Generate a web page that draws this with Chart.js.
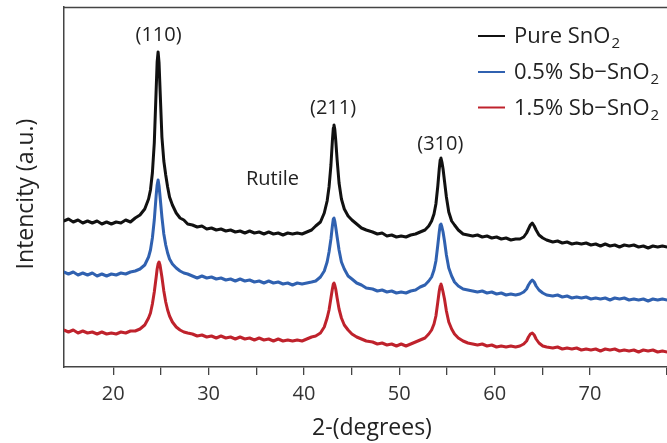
<!DOCTYPE html>
<html>
<head>
<meta charset="utf-8">
<script src="https://cdn.jsdelivr.net/npm/chart.js@4.4.0/dist/chart.umd.min.js"></script>
<style>
    html, body { margin: 0; padding: 0; background: #fff; }
    canvas { display: block; }
</style>
</head>
<body>
<canvas id="xrdChart" width="667" height="443"></canvas>
<script>
// 2-theta positions (degrees), shared by all three patterns
const angle = [
    14.8, 15.3, 15.8, 16.3, 16.8, 17.3, 17.8, 18.3, 18.8, 19.3, 19.8, 20.3, 20.8, 21.3, 21.8,
    22.3, 22.8, 23.3, 23.7, 23.9, 24.1, 24.3, 24.5, 24.6, 24.7, 24.8, 24.9, 25.1, 25.3, 25.5, 25.7, 25.9, 26.2, 26.6, 27.0, 27.4, 27.8,
    28.3, 28.8, 29.3, 29.8, 30.3, 30.8, 31.3, 31.8, 32.3, 32.8, 33.3, 33.8, 34.3, 34.8, 35.3, 35.8, 36.3, 36.8, 37.3, 37.8, 38.3, 38.8, 39.3, 39.8, 40.3, 40.8,
    41.23, 41.73, 42.13, 42.43, 42.63, 42.83, 42.98, 43.08, 43.15, 43.23, 43.33, 43.48, 43.68, 43.93, 44.23, 44.63, 45.03, 45.53, 46.03, 46.53,
    47.2, 47.7, 48.2, 48.7, 49.2, 49.7, 50.2, 50.7, 51.2, 51.7,
    52.19, 52.69, 53.09, 53.39, 53.64, 53.84, 54.04, 54.19, 54.29, 54.37, 54.47, 54.59, 54.74, 54.94, 55.19, 55.49, 55.79, 56.19, 56.69, 57.19,
    57.7, 58.2, 58.7, 59.2, 59.7, 60.2, 60.7, 61.2, 61.7, 62.2,
    62.65, 63.05, 63.35, 63.55, 63.75, 63.95, 64.15, 64.35, 64.65, 65.05, 65.45,
    66.1, 66.6, 67.1, 67.6, 68.1, 68.6, 69.1, 69.6, 70.1, 70.6, 71.1, 71.6, 72.1, 72.6, 73.1, 73.6, 74.1, 74.6, 75.1, 75.6, 76.1, 76.6, 77.1, 77.6, 78.1
];

const pureSnO2 = [
    146, 148, 145, 147, 144, 146, 144, 146, 143, 145, 143, 145, 144, 147, 145,
    149, 152, 158, 168, 177, 194, 224, 278, 305, 315, 304, 279, 230, 206, 192, 180, 170, 162, 154, 149, 147, 143,
    142, 140, 141, 138, 139, 137, 138, 136, 137, 135, 136, 134, 136, 134, 135, 133, 135, 133, 134, 132, 134, 133, 134, 133, 135, 137,
    141, 145, 154, 166, 180, 202, 226, 239, 242, 238, 227, 207, 184, 168, 158, 151, 147, 143, 139, 137,
    135, 133, 134, 131, 132, 130, 131, 130, 132, 133,
    135, 137, 141, 146, 153, 163, 181, 198, 207, 209, 205, 198, 186, 170, 155, 146, 142, 137, 133, 132,
    131, 132, 130, 131, 129, 130, 128, 129, 127, 128,
    128, 130, 134, 138, 142, 144, 141, 137, 132, 129, 127,
    125, 126, 124, 125, 123, 124, 123, 124, 122, 123, 121, 123, 121, 122, 120, 122, 121, 122, 120, 121, 119, 121, 120, 121, 120
];

const sb05 = [
    95, 93, 95, 92, 94, 92, 94, 91, 93, 91, 93, 92, 94, 93, 95,
    96, 98, 102, 110, 117, 129, 147, 172, 182, 187, 181, 171, 150, 133, 122, 114, 108, 103, 99, 96, 94, 93,
    91, 89, 91, 89, 90, 88, 89, 87, 88, 86, 88, 86, 87, 85, 86, 84, 86, 84, 85, 83, 84, 82, 84, 83, 84, 85,
    86, 90, 96, 105, 115, 128, 141, 148, 149, 146, 140, 130, 117, 105, 98, 91, 88, 84, 82, 79,
    78, 76, 77, 75, 76, 74, 75, 74, 76, 77,
    80, 82, 86, 90, 97, 106, 122, 135, 142, 143, 140, 135, 126, 112, 99, 91, 85, 81, 78, 77,
    76, 75, 76, 74, 75, 73, 74, 72, 73, 72,
    73, 75, 78, 82, 85, 87, 85, 81, 77, 74, 72,
    71, 72, 70, 71, 69, 70, 69, 70, 68, 69, 68, 69, 67, 69, 68, 69, 67, 68, 67, 68, 66, 68, 67, 68, 67
];

const sb15 = [
    37, 35, 37, 34, 36, 34, 35, 33, 35, 33, 34, 33, 35, 34, 36,
    36, 38, 42, 49, 54, 63, 75, 90, 98, 103, 105, 102, 90, 76, 65, 57, 51, 45, 40, 37, 35, 34,
    33, 31, 32, 30, 31, 29, 31, 29, 30, 28, 30, 28, 29, 27, 29, 27, 28, 26, 28, 26, 27, 26, 27, 26, 28, 30,
    31, 34, 40, 49, 57, 69, 78, 83, 84, 82, 78, 69, 58, 49, 42, 37, 33, 30, 28, 26,
    25, 23, 24, 22, 23, 21, 23, 21, 23, 25,
    27, 29, 33, 37, 43, 51, 65, 76, 81, 83, 80, 75, 68, 56, 45, 38, 33, 29, 26, 24,
    23, 22, 23, 21, 22, 20, 21, 20, 21, 20,
    21, 23, 26, 30, 33, 34, 32, 28, 24, 21, 20,
    19, 20, 18, 19, 18, 19, 17, 18, 17, 18, 16, 18, 17, 18, 16, 17, 16, 17, 15, 17, 16, 17, 15, 16, 15
];

const seriesNames = ['Pure SnO₂', '0.5% Sb−SnO₂', '1.5% Sb−SnO₂'];
const seriesColors = ['#111111', '#3061b0', '#bf222c'];

// reflection labels placed in data coordinates
const peakLabels = ['(110)', '(211)', '(310)', 'Rutile'];
const peakLabelX = [24.75, 43.05, 54.3, 36.7];
const peakLabelY = [332, 259, 223, 188];

const FONT = '"Open Sans", "Noto Sans", sans-serif';
const AXIS_COLOR = '#444';

function toPoints(values) {
    return values.map((v, i) => ({x: angle[i], y: v}));
}

const decorations = {
    id: 'decorations',
    afterDraw(chart) {
        const ctx = chart.ctx;
        const area = chart.chartArea;
        const xs = chart.scales.x;
        const ys = chart.scales.y;
        ctx.save();

        // top frame line
        ctx.strokeStyle = AXIS_COLOR;
        ctx.lineWidth = 1.3;
        ctx.beginPath();
        ctx.moveTo(area.left, area.top + 0.5);
        ctx.lineTo(area.right, area.top + 0.5);
        ctx.stroke();

        // peak labels
        ctx.fillStyle = '#222';
        ctx.textAlign = 'center';
        ctx.textBaseline = 'middle';
        ctx.font = `20px ${FONT}`;
        peakLabels.forEach((t, i) => {
            ctx.fillText(t, xs.getPixelForValue(peakLabelX[i]), ys.getPixelForValue(peakLabelY[i]));
        });

        // axis titles
        ctx.font = `23px ${FONT}`;
        ctx.fillText('2-(degrees)', 372, 428);
        ctx.save();
        ctx.translate(26, 194);
        ctx.rotate(-Math.PI / 2);
        ctx.fillText('Intencity (a.u.)', 0, 0);
        ctx.restore();

        // legend
        const rowY = [36, 72, 107.5];
        seriesNames.forEach((name, i) => {
            ctx.strokeStyle = seriesColors[i];
            ctx.lineWidth = 2;
            ctx.beginPath();
            ctx.moveTo(478, rowY[i]);
            ctx.lineTo(505, rowY[i]);
            ctx.stroke();

            const main = name.replace('₂', '');
            ctx.fillStyle = '#222';
            ctx.textAlign = 'left';
            ctx.font = `22px ${FONT}`;
            ctx.fillText(main, 514, rowY[i] + 1);
            const w = ctx.measureText(main).width;
            ctx.font = `15px ${FONT}`;
            ctx.fillText('2', 514 + w + 1, rowY[i] + 8);
        });

        ctx.restore();
    }
};

function main() {
    const ctx = document.getElementById('xrdChart').getContext('2d');
    Chart.defaults.font.family = FONT;

    new Chart(ctx, {
        type: 'line',
        data: {
            datasets: [pureSnO2, sb05, sb15].map((vals, i) => ({
                label: seriesNames[i],
                data: toPoints(vals),
                borderColor: seriesColors[i],
                borderWidth: 3,
                borderJoinStyle: 'round',
                pointRadius: 0,
                tension: 0,
                fill: false
            }))
        },
        options: {
            responsive: false,
            animation: false,
            devicePixelRatio: 1,
            layout: {padding: {top: 7, right: 0, left: 0, bottom: 0}},
            plugins: {
                legend: {display: false},
                tooltip: {enabled: false}
            },
            scales: {
                x: {
                    type: 'linear',
                    min: 14.83,
                    max: 78.08,
                    afterFit: s => {
                        s.height = 76;
                        s.paddingLeft = 0;
                        s.paddingRight = 0;
                    },
                    afterBuildTicks: s => { s.ticks = s.ticks.filter(t => t.value >= 20); },
                    ticks: {
                        stepSize: 5,
                        autoSkip: false,
                        maxRotation: 0,
                        padding: 7,
                        color: '#333',
                        font: {size: 20},
                        callback: v => (v % 10 === 0 ? v : '')
                    },
                    grid: {
                        display: true,
                        drawOnChartArea: false,
                        drawTicks: true,
                        tickLength: 8,
                        color: AXIS_COLOR,
                        lineWidth: 1.3
                    },
                    border: {display: true, color: AXIS_COLOR, width: 1.5}
                },
                y: {
                    min: 0,
                    max: 360,
                    afterFit: s => { s.width = 64; },
                    ticks: {display: false},
                    grid: {display: false},
                    border: {display: true, color: AXIS_COLOR, width: 1.5}
                }
            }
        },
        plugins: [decorations]
    });
}

main();
</script>
</body>
</html>
